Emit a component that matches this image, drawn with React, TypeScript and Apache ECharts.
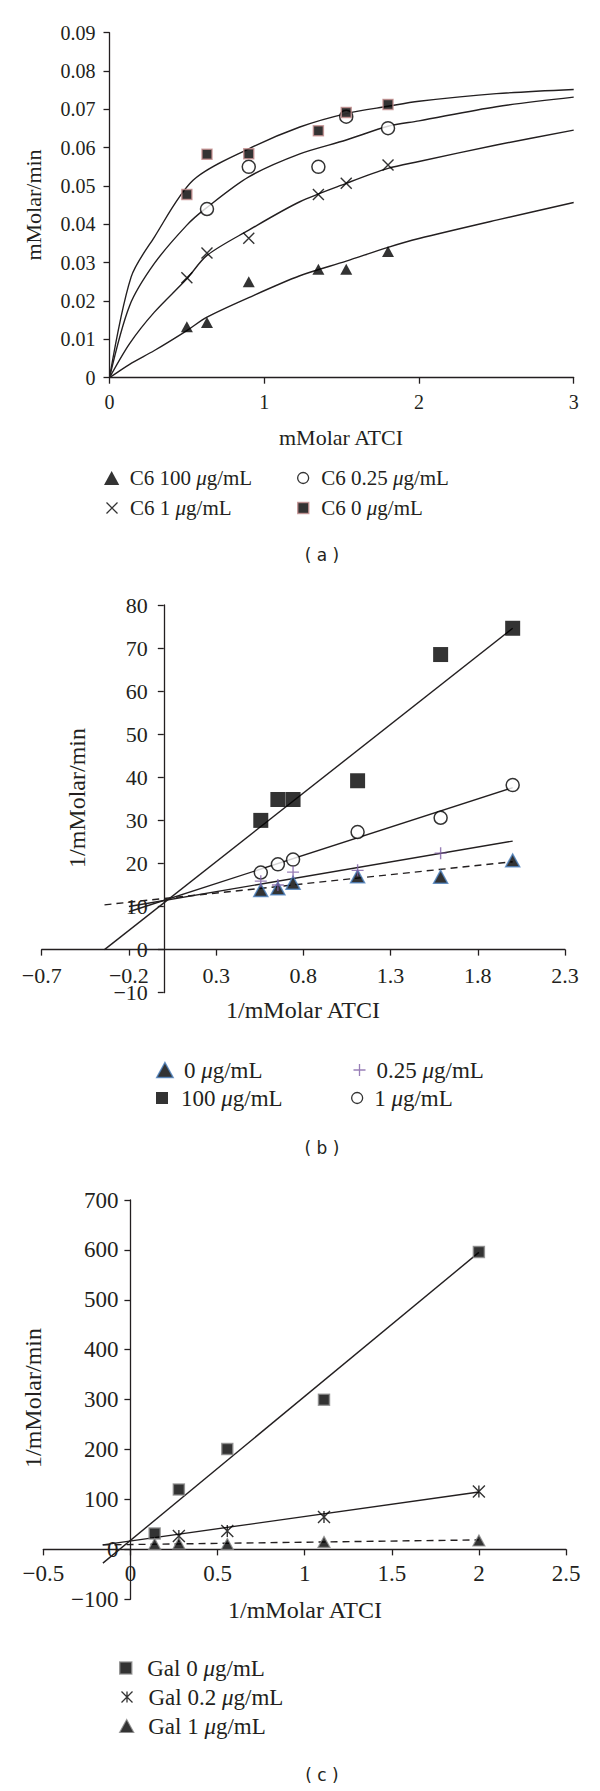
import React, { useEffect, useRef } from 'react';
import * as echarts from 'echarts';

// ---------- Panel (a): Michaelis–Menten ----------
const aX = [0.5, 0.63, 0.9, 1.35, 1.53, 1.8];
const aC6_100 = [0.0133, 0.0144, 0.025, 0.0283, 0.0283, 0.0329];
const aC6_1 = [0.0261, 0.0325, 0.0364, 0.0478, 0.0507, 0.0555];
const aC6_0 = [0.0478, 0.0583, 0.0584, 0.0644, 0.0692, 0.0713];
const aC6_025X = [0.63, 0.9, 1.35, 1.53, 1.8];
const aC6_025 = [0.044, 0.055, 0.055, 0.0681, 0.0651];
// fitted curves
const aFit0 = [[0, 0], [0.14, 0.0263], [0.29, 0.0367], [0.54, 0.0515], [0.9, 0.0597], [1.23, 0.0654], [1.53, 0.0689], [1.8, 0.0708], [2, 0.0721], [2.5, 0.0741], [3, 0.0752]];
const aFit025 = [[0, 0], [0.13, 0.0188], [0.29, 0.0298], [0.5, 0.0398], [0.62, 0.0441], [0.9, 0.0524], [1.23, 0.0584], [1.53, 0.062], [1.8, 0.0656], [2, 0.067], [2.5, 0.0707], [3, 0.0732]];
const aFit1 = [[0, 0], [0.13, 0.0089], [0.29, 0.0171], [0.5, 0.0258], [0.63, 0.0319], [0.9, 0.0385], [1.23, 0.0459], [1.53, 0.0507], [1.8, 0.0546], [2, 0.0564], [2.5, 0.0607], [3, 0.0646]];
const aFit100 = [[0, 0], [0.13, 0.0035], [0.29, 0.0071], [0.5, 0.0123], [0.63, 0.0158], [0.9, 0.0209], [1.23, 0.0266], [1.53, 0.0304], [1.8, 0.034], [2, 0.0363], [2.5, 0.0411], [3, 0.0457]];
const aYTicks = { min: 0, max: 0.09, interval: 0.01 };
const aXTicks = { min: 0, max: 3, interval: 1 };

// ---------- Panel (b): Lineweaver–Burk, C6 ----------
const bX = [0.556, 0.654, 0.741, 1.111, 1.587, 2.0];
const b0 = [13.8, 14.2, 15.5, 17.0, 16.9, 20.7];
const b100 = [30.0, 34.85, 34.85, 39.2, 68.5, 74.6];
const b1 = [17.9, 19.8, 20.9, 27.3, 30.6, 38.2];
const b025X = [0.556, 0.654, 0.741, 1.111, 1.587];
const b025 = [15.9, 15.0, 18.0, 18.4, 22.4];
const bLine100 = [[-0.34, 0], [2.0, 74.6]];
const bLine1 = [[-0.2, 8.8], [2.0, 37.6]];
const bLine025 = [[-0.2, 10.0], [2.0, 25.2]];
const bLine0 = [[-0.34, 10.4], [2.0, 20.4]];
const bYTicks = { min: -10, max: 80, interval: 10 };
const bXRange = { min: -0.7, max: 2.3 };
const bXTickValues = [-0.7, -0.2, 0.3, 0.8, 1.3, 1.8, 2.3];

// ---------- Panel (c): Lineweaver–Burk, Gal ----------
const cX = [0.139, 0.278, 0.556, 1.111, 2.0];
const cGal0 = [32, 120, 201, 300, 596];
const cGal1 = [11, 12, 11, 15, 18];
const cGal02X = [0.278, 0.556, 1.111, 2.0];
const cGal02 = [27, 37, 65, 116];
const cLine0 = [[-0.158, -27.6], [2.0, 595]];
const cLine02 = [[-0.158, 9], [2.0, 115]];
const cLine1 = [[-0.16, 9], [2.0, 19]];
const cYTicks = { min: -100, max: 700, interval: 100 };
const cXTicks = { min: -0.5, max: 2.5, interval: 0.5 };

const SERIF = '"Liberation Serif", "Times New Roman", serif';
const SANS = '"DejaVu Sans", sans-serif';
const INK = '#231f20';

// grid boxes (layout)
const GA = { left: 109.5, top: 32.7, width: 464.2, height: 345 };
const GB = { left: 41.7, top: 605, width: 523.3, height: 387.7 };
const GC = { left: 43.3, top: 1200, width: 522.7, height: 399.3 };

const zip = (xs: number[], ys: number[]) => xs.map((x, i) => [x, ys[i]]);
const fmt = (v: number) => {
  const r = Number(v.toFixed(3));
  return r < 0 ? '\u2212' + String(-r) : String(r);
};
// shift (px) that brings an edge axis onto the zero of the other axis
const zeroShift = (min: number, max: number, span: number) => -((0 - min) / (max - min)) * span;

const X_PATH = 'path://M0,0L10,10M10,0L0,10';
const PLUS_PATH = 'path://M5,0L5,10M0,5L10,5';
const STAR_PATH = 'path://M0,0L10,10M10,0L0,10M5,0L5,10';
const SQ_PATH = 'path://M0,0L10,0L10,10L0,10Z';
const TRI_PATH = 'path://M6,0L12,11L0,11Z';
const CIRC_PATH = 'path://M0,5A5,5,0,1,1,10,5A5,5,0,1,1,0,5Z';

const lineSty = { color: INK, width: 1.3 };

function axis(gridIndex: number, position: string, range: any, fontSize: number, margin: number, offset = 0, customTicks: number[] | null = null) {
  const ax: any = {
    gridIndex,
    type: 'value',
    position,
    offset,
    min: range.min,
    max: range.max,
    axisLine: { show: true, onZero: false, lineStyle: lineSty },
    axisTick: { show: true, inside: false, length: 6, lineStyle: lineSty },
    splitLine: { show: false },
    axisLabel: { color: INK, fontFamily: SERIF, fontSize, margin, formatter: fmt, hideOverlap: false },
  };
  if (customTicks) {
    ax.axisTick.customValues = customTicks;
    ax.axisLabel.customValues = customTicks;
  } else {
    ax.interval = range.interval;
  }
  return ax;
}

function scatter(name: string, gi: number, data: any, symbol: string, size: any, itemStyle: any) {
  return {
    type: 'scatter',
    name,
    xAxisIndex: gi,
    yAxisIndex: gi,
    data,
    symbol,
    symbolSize: size,
    symbolKeepAspect: true,
    itemStyle,
    z: 4,
  };
}

function line(name: string, gi: number, data: any, dashed = false, smooth: any = false) {
  return {
    type: 'line',
    name,
    xAxisIndex: gi,
    yAxisIndex: gi,
    data,
    symbol: 'none',
    showSymbol: false,
    smooth,
    silent: true,
    lineStyle: { color: INK, width: 1.4, type: dashed ? [7, 5] : 'solid' },
    z: 3,
  };
}

function legendItem(name: string, left: number, rowY: number, itemWidth: number, iconSize: number, fontSize: number, borderWidth: number) {
  const lh = fontSize + 2;
  return {
    data: [name],
    left,
    top: rowY - lh / 2,
    orient: 'horizontal',
    padding: 0,
    itemWidth,
    itemHeight: iconSize,
    selectedMode: false,
    itemStyle: { borderWidth },
    formatter: (n: string) => n.replace('\u03bc', '{i|\u03bc}'),
    textStyle: {
      color: INK,
      fontFamily: SERIF,
      fontSize,
      lineHeight: lh,
      rich: { i: { fontStyle: 'italic', fontFamily: SERIF, fontSize, color: INK, lineHeight: lh } },
    },
  };
}

function title(text: string, x: number, y: number, fontSize: number, vertical = false, family = SERIF) {
  return {
    type: 'text',
    x,
    y,
    rotation: vertical ? Math.PI / 2 : 0,
    style: {
      text,
      fontFamily: family,
      fontSize,
      fill: INK,
      align: 'center',
      verticalAlign: 'middle',
      textAlign: 'center',
      textVerticalAlign: 'middle',
    },
  };
}

const styTriA = { color: '#000' };
const styCircle = { color: '#fff', borderColor: '#000', borderWidth: 1.5 };
const styX = { color: 'none', borderColor: '#000', borderWidth: 1.4 };
const stySqA = { color: '#000', borderColor: '#c48e8e', borderWidth: 1.5 };
const styTriB = { color: '#000', borderColor: '#4a7ebb', borderWidth: 1.5 };
const stySqB = { color: '#000' };
const styPlus = { color: 'none', borderColor: '#7f5fa5', borderWidth: 1.4 };
const stySqC = { color: '#000', borderColor: '#8a8a8a', borderWidth: 1.5 };
const styStar = { color: 'none', borderColor: '#000', borderWidth: 1.4 };
const styTriC = { color: '#000', borderColor: '#8a8a8a', borderWidth: 1.2 };

export default function App() {
  const ref = useRef<HTMLDivElement>(null);
  useEffect(() => {
    document.body.style.margin = '0';
    const chart = echarts.init(ref.current!, null, { renderer: 'svg' });
    const gridOpt = (g: any) => ({ ...g, containLabel: false, outerBoundsMode: 'none' });
    const option: any = {
      animation: false,
      backgroundColor: '#fff',
      grid: [gridOpt(GA), gridOpt(GB), gridOpt(GC)],
      xAxis: [
        axis(0, 'bottom', aXTicks, 20, 14),
        axis(1, 'bottom', bXRange, 22, 15, zeroShift(bYTicks.min, bYTicks.max, GB.height), bXTickValues),
        axis(2, 'bottom', cXTicks, 23, 13, zeroShift(cYTicks.min, cYTicks.max, GC.height)),
      ],
      yAxis: [
        axis(0, 'left', aYTicks, 20, 14),
        axis(1, 'left', bYTicks, 22, 16, zeroShift(bXRange.min, bXRange.max, GB.width)),
        axis(2, 'left', cYTicks, 23, 12, zeroShift(cXTicks.min, cXTicks.max, GC.width)),
      ],
      legend: [
        legendItem('C6 100 \u03bcg/mL', 104, 478, 26, 14, 21, 0),
        legendItem('C6 0.25 \u03bcg/mL', 297, 478, 26, 11, 21, 1.3),
        legendItem('C6 1 \u03bcg/mL', 104, 508, 26, 11, 21, 1.3),
        legendItem('C6 0 \u03bcg/mL', 297, 508, 26, 11, 21, 1.5),
        legendItem('0 \u03bcg/mL', 156, 1070, 28, 15, 23, 1.5),
        legendItem('0.25 \u03bcg/mL', 351, 1070, 24, 12, 23, 1.3),
        legendItem('100 \u03bcg/mL', 156, 1098, 28, 12, 23, 0),
        legendItem('1 \u03bcg/mL', 351, 1098, 24, 11, 23, 1.3),
        legendItem('Gal 0 \u03bcg/mL', 119, 1668, 33, 12, 23, 1.5),
        legendItem('Gal 0.2 \u03bcg/mL', 119, 1697, 33, 11, 23, 1.3),
        legendItem('Gal 1 \u03bcg/mL', 119, 1726, 33, 13, 23, 1.2),
      ],
      series: [
        line('fit a 0', 0, aFit0, false, 0.3),
        line('fit a 0.25', 0, aFit025, false, 0.3),
        line('fit a 1', 0, aFit1, false, 0.3),
        line('fit a 100', 0, aFit100, false, 0.3),
        scatter('C6 100 \u03bcg/mL', 0, zip(aX, aC6_100), TRI_PATH, 12, styTriA),
        scatter('C6 0.25 \u03bcg/mL', 0, zip(aC6_025X, aC6_025), CIRC_PATH, 13, styCircle),
        scatter('C6 1 \u03bcg/mL', 0, zip(aX, aC6_1), X_PATH, 11, styX),
        scatter('C6 0 \u03bcg/mL', 0, zip(aX, aC6_0), SQ_PATH, 10, stySqA),

        line('line b 100', 1, bLine100),
        line('line b 1', 1, bLine1),
        line('line b 0.25', 1, bLine025),
        line('line b 0', 1, bLine0, true),
        scatter('100 \u03bcg/mL', 1, zip(bX, b100), SQ_PATH, 15, stySqB),
        scatter('1 \u03bcg/mL', 1, zip(bX, b1), CIRC_PATH, 13, styCircle),
        scatter('0 \u03bcg/mL', 1, zip(bX, b0), TRI_PATH, 14, styTriB),
        scatter('0.25 \u03bcg/mL', 1, zip(b025X, b025), PLUS_PATH, 12, styPlus),

        line('line c 0', 2, cLine0),
        line('line c 0.2', 2, cLine02),
        line('line c 1', 2, cLine1, true),
        scatter('Gal 0 \u03bcg/mL', 2, zip(cX, cGal0), SQ_PATH, 11, stySqC),
        scatter('Gal 0.2 \u03bcg/mL', 2, zip(cGal02X, cGal02), STAR_PATH, 12, styStar),
        scatter('Gal 1 \u03bcg/mL', 2, zip(cX, cGal1), TRI_PATH, 12, styTriC),
      ],
      graphic: [
        title('mMolar ATCI', 341, 437, 22),
        title('mMolar/min', 33, 205, 22, true),
        title('1/mMolar ATCI', 303, 1010, 24),
        title('1/mMolar/min', 77, 798, 24, true),
        title('1/mMolar ATCI', 305, 1610, 24),
        title('1/mMolar/min', 33, 1398, 24, true),
        title('( a )', 322, 555, 17, false, SANS),
        title('( b )', 322, 1148, 17, false, SANS),
        title('( c )', 322, 1775, 17, false, SANS),
      ],
    };
    chart.setOption(option);
    return () => chart.dispose();
  }, []);
  return <div ref={ref} style={{ position: 'absolute', left: 0, top: 0, width: 600, height: 1791 }} />;
}
